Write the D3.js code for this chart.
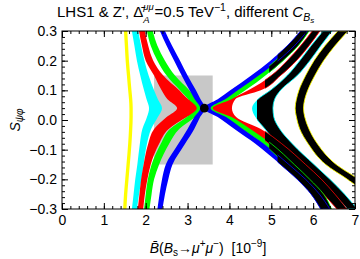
<!DOCTYPE html>
<html><head><meta charset="utf-8">
<script src="https://cdn.jsdelivr.net/npm/d3@7"></script>
<style>
body{margin:0;background:#fff}
svg{display:block}
text{font-family:"Liberation Sans",Arial,sans-serif;fill:#000}
</style>
</head><body>
<svg id="c" width="360" height="259"></svg>
<script>
// ---- data ----
const xTickValues = [0,1,2,3,4,5,6,7];
const yTickValues = [-0.3,-0.2,-0.1,0,0.1,0.2,0.3];
const yTickLabels = ["\u22120.3","\u22120.2","\u22120.1","0.0","0.1","0.2","0.3"];
const expBox = {x0:2.2, x1:3.6, y0:-0.15, y1:0.15};
const smPoint = [3.4, 0.04];

// S_psi_phi levels at which band edges were read
const yLevels = [0.3,0.25,0.2,0.15,0.1,0.07,0.04,0.01,-0.03,-0.08,-0.15,-0.2,-0.25,-0.3];

// left branches: left edge / right edge of B(Bs->mumu)
const yellowLeftLo = [1.48,1.50,1.52,1.55,1.58,1.60,1.61,1.61,1.60,1.58,1.54,1.51,1.48,1.46];
const yellowLeftHi = [1.56,1.58,1.60,1.63,1.66,1.68,1.69,1.69,1.68,1.66,1.62,1.59,1.56,1.54];
const cyanLeftLo   = [1.67,1.73,1.79,1.87,1.96,2.02,2.08,2.03,1.92,1.86,1.80,1.75,1.71,1.67];
const cyanLeftHi   = [1.82,1.89,1.97,2.07,2.20,2.29,2.39,2.29,2.13,2.03,1.95,1.90,1.84,1.79];
const redLeftLo    = [1.84,1.91,2.00,2.20,2.38,2.52,2.75,2.50,2.20,2.06,1.95,1.89,1.85,1.81];
const redLeftHi    = [1.98,2.06,2.18,2.42,2.80,3.02,3.38,2.98,2.55,2.32,2.12,2.04,1.98,1.94];
const greenLeftLo  = [2.03,2.12,2.28,2.50,2.82,3.02,3.22,2.98,2.58,2.36,2.14,2.05,2.00,1.96];
const greenLeftHi  = [2.17,2.28,2.46,2.70,3.04,3.22,3.40,3.18,2.80,2.56,2.32,2.20,2.14,2.09];
const blueLeftLo   = [2.34,2.50,2.68,2.86,3.05,3.17,3.30,3.16,3.00,2.78,2.48,2.39,2.33,2.28];
const blueLeftHi   = [2.46,2.63,2.82,3.00,3.20,3.31,3.42,3.30,3.16,2.94,2.64,2.54,2.46,2.40];

// right branches
const blueRightLo   = [5.70,5.38,4.98,4.52,4.02,3.72,3.38,3.72,4.12,4.62,5.22,5.62,5.95,6.18];
const blueRightHi   = [5.86,5.55,5.16,4.70,4.20,3.90,3.55,3.92,4.32,4.82,5.42,5.82,6.15,6.40];
const greenRightLo  = [5.74,5.46,5.10,4.66,4.18,3.85,3.42,3.85,4.30,4.80,5.35,5.72,6.05,6.26];
const greenRightHi  = [5.90,5.64,5.28,4.86,4.38,4.05,3.60,4.05,4.50,5.00,5.55,5.92,6.25,6.44];
const redRightLo    = [5.98,5.70,5.38,5.00,4.45,4.00,3.40,4.00,4.45,4.95,5.50,5.90,6.25,6.57];
const redRightHi    = [6.16,5.90,5.60,5.22,4.75,4.14,4.06,4.16,4.75,5.25,5.82,6.20,6.52,6.81];
const cyanRightLo   = [6.24,5.95,5.68,5.38,4.98,4.68,4.54,4.62,4.85,5.15,5.70,6.08,6.48,6.83];
const cyanRightHi   = [6.45,6.18,5.92,5.62,5.22,5.08,5.04,5.06,5.20,5.50,6.02,6.40,6.75,7.05];
const yellowRightLo = [6.59,6.28,6.02,5.82,5.66,5.60,5.57,5.60,5.68,5.88,6.30,6.82,7.30,7.70];
const yellowRightHi = [6.83,6.52,6.25,6.04,5.87,5.80,5.77,5.80,5.90,6.10,6.55,7.08,7.50,7.90];

// where the right branches turn black
const blackFrom = {yellow:5.0, cyan:4.66, red:4.85, green:4.95, blue:5.15};

// ---- drawing ----
const svg = d3.select("#c");
const L=62, R=355, T=31, B=209;
const x = d3.scaleLinear().domain([0,7]).range([L,R]);
const y = d3.scaleLinear().domain([-0.3,0.3]).range([B,T]);

const defs = svg.append("defs");
defs.append("clipPath").attr("id","plot").append("rect")
  .attr("x",L).attr("y",T).attr("width",R-L).attr("height",B-T);

const colors = {yellow:"#ffff00", cyan:"#00ffff", red:"#ff0000", green:"#00ff00", blue:"#0000ff"};

function band(lo, hi){
  return yLevels.map((v,i)=>({y:v, a:lo[i], b:hi[i]})).sort((p,q)=>p.y-q.y);
}
const area = d3.area().curve(d3.curveMonotoneY)
  .y(d=>y(d.y)).x0(d=>x(d.a)).x1(d=>x(d.b));

const plot = svg.append("g").attr("clip-path","url(#plot)");

plot.append("rect")
  .attr("x",x(expBox.x0)).attr("y",y(expBox.y1))
  .attr("width",x(expBox.x1)-x(expBox.x0)).attr("height",y(expBox.y0)-y(expBox.y1))
  .attr("fill","#c8c8c8");

const leftBands = [
  ["yellow",yellowLeftLo,yellowLeftHi],
  ["cyan",cyanLeftLo,cyanLeftHi],
  ["red",redLeftLo,redLeftHi],
  ["green",greenLeftLo,greenLeftHi],
  ["blue",blueLeftLo,blueLeftHi]
];
const rightBands = [
  ["yellow",yellowRightLo,yellowRightHi],
  ["cyan",cyanRightLo,cyanRightHi],
  ["red",redRightLo,redRightHi],
  ["green",greenRightLo,greenRightHi],
  ["blue",blueRightLo,blueRightHi]
];

leftBands.forEach(([c,lo,hi])=>{
  plot.append("path").attr("d",area(band(lo,hi))).attr("fill",colors[c]);
});
rightBands.forEach(([c,lo,hi])=>{
  plot.append("path").attr("d",area(band(lo,hi))).attr("fill",colors[c]);
});
rightBands.forEach(([c,lo,hi])=>{
  const id="blk-"+c;
  defs.append("clipPath").attr("id",id).append("rect")
    .attr("x",x(blackFrom[c])).attr("y",T).attr("width",R-x(blackFrom[c])).attr("height",B-T);
  plot.append("g").attr("clip-path",`url(#${id})`)
    .append("path").attr("d",area(band(lo,hi)))
    .attr("fill","#000").attr("stroke",colors[c]).attr("stroke-width",0.8);
});

plot.append("circle").attr("cx",x(smPoint[0])).attr("cy",y(smPoint[1])).attr("r",4.3).attr("fill","#000");

// ---- frame and ticks ----
function styleAxis(g){
  g.select(".domain").remove();
  g.selectAll("line").attr("stroke","#000");
  g.selectAll("text").attr("font-family","'Liberation Sans',Arial,sans-serif").attr("font-size",14).attr("fill","#000");
}
const minorX = d3.range(0,7.0001,0.2);
const minorY = d3.range(-0.3,0.3001,0.02);

[[d3.axisBottom,B],[d3.axisTop,T]].forEach(([ax,pos],k)=>{
  svg.append("g").attr("transform",`translate(0,${pos})`)
    .call(ax(x).tickValues(minorX).tickSize(-3).tickSizeOuter(0).tickFormat("")).call(styleAxis);
  svg.append("g").attr("transform",`translate(0,${pos})`)
    .call(ax(x).tickValues(xTickValues).tickSize(-6).tickSizeOuter(0).tickPadding(6)
      .tickFormat(k===0? d3.format("d") : "")).call(styleAxis);
});
[[d3.axisLeft,L],[d3.axisRight,R]].forEach(([ax,pos],k)=>{
  svg.append("g").attr("transform",`translate(${pos},0)`)
    .call(ax(y).tickValues(minorY).tickSize(-3).tickSizeOuter(0).tickFormat("")).call(styleAxis);
  svg.append("g").attr("transform",`translate(${pos},0)`)
    .call(ax(y).tickValues(yTickValues).tickSize(-6).tickSizeOuter(0).tickPadding(5)
      .tickFormat((d,i)=> k===0 ? yTickLabels[i] : "")).call(styleAxis);
});
svg.append("rect").attr("x",L).attr("y",T).attr("width",R-L).attr("height",B-T)
  .attr("fill","none").attr("stroke","#000").attr("stroke-width",1);

// ---- texts ----
const title = svg.append("text").attr("x",57).attr("y",17).attr("font-size",15).style("white-space","pre");
title.append("tspan").text("LHS1 & Z', ");
title.append("tspan").text("\u0394\u0304");
title.append("tspan").attr("font-size",9.5).attr("font-style","italic").attr("dy",-7).text("\u03bc\u03bc");
title.append("tspan").attr("font-size",9.5).attr("font-style","italic").attr("dx",-10.5).attr("dy",12.5).text("A");
title.append("tspan").attr("dy",-5.5).attr("dx",5).text("=0.5 TeV");
title.append("tspan").attr("font-size",10.5).attr("dy",-6).text("\u22121");
title.append("tspan").attr("dy",6).text(", different ");
title.append("tspan").attr("font-style","italic").text("C");
title.append("tspan").attr("font-style","italic").attr("font-size",10.5).attr("dy",4).text("B");
title.append("tspan").attr("font-style","italic").attr("font-size",8).attr("dy",2).text("s");

const xt = svg.append("text").attr("x",208).attr("y",253).attr("text-anchor","middle").attr("font-size",14).style("white-space","pre");
xt.append("tspan").attr("font-style","italic").text("B\u0304");
xt.append("tspan").text("(");
xt.append("tspan").attr("font-style","italic").text("B");
xt.append("tspan").attr("font-size",10).attr("dy",3).text("s");
xt.append("tspan").attr("dy",-3).text("\u2192");
xt.append("tspan").attr("font-style","italic").text("\u03bc");
xt.append("tspan").attr("font-size",10).attr("dy",-6).text("+");
xt.append("tspan").attr("font-style","italic").attr("dy",6).text("\u03bc");
xt.append("tspan").attr("font-size",10).attr("dy",-6).text("\u2212");
xt.append("tspan").attr("dy",6).text(")  [10");
xt.append("tspan").attr("font-size",10).attr("dy",-6).text("\u22129");
xt.append("tspan").attr("dy",6).text("]");

const yt = svg.append("text").attr("transform","translate(20,120) rotate(-90)").attr("text-anchor","middle").attr("font-size",14);
yt.append("tspan").attr("font-style","italic").text("S");
yt.append("tspan").attr("font-style","italic").attr("font-size",10).attr("dy",3).text("\u03c8\u03c6");
</script>
</body></html>
